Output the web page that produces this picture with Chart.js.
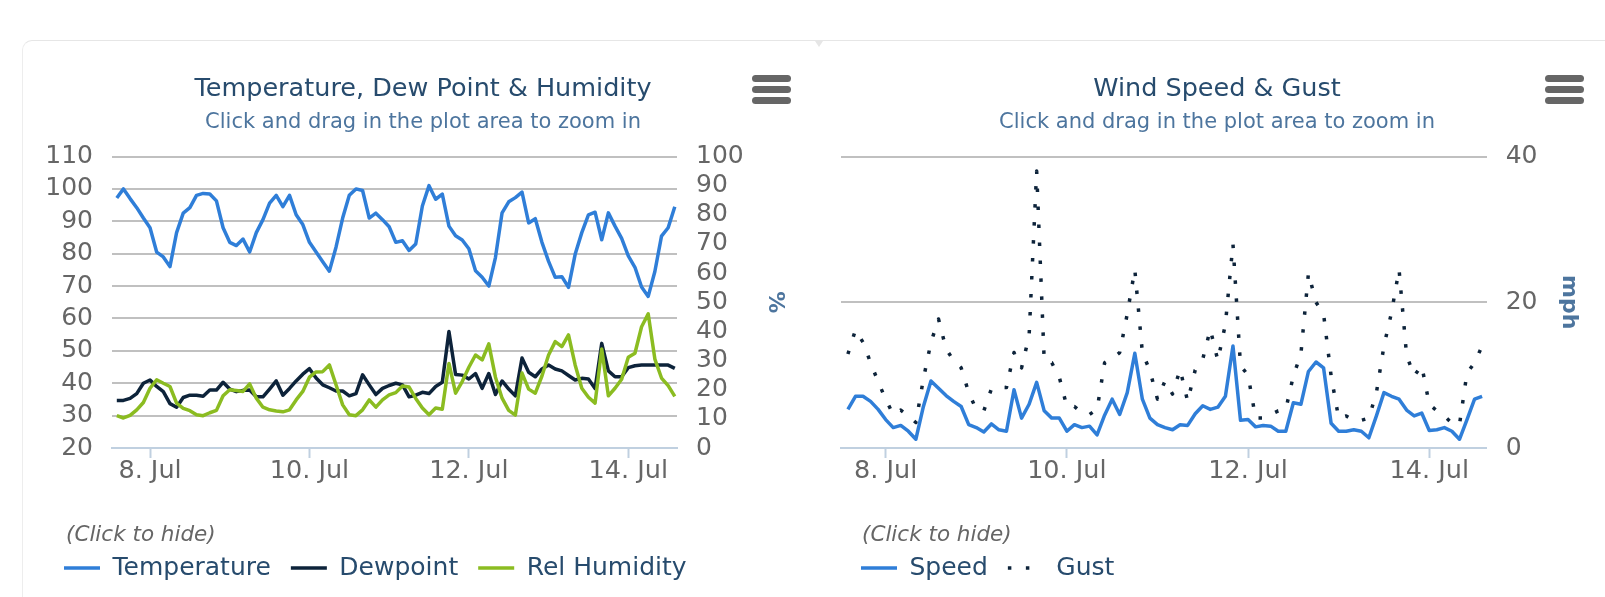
<!DOCTYPE html>
<html><head><meta charset="utf-8">
<script src="https://cdn.jsdelivr.net/npm/chart.js@4.4.0/dist/chart.umd.min.js"></script>
<style>
html,body{margin:0;padding:0;background:#fff;width:1605px;height:597px;overflow:hidden;font-family:"DejaVu Sans",sans-serif;}
#card{position:absolute;left:22px;top:40px;width:1620px;height:620px;border-top:1px solid #e6e6e6;border-left:1px solid #ededed;border-top-left-radius:10px;}
.notch{position:absolute;left:815px;top:41px;width:0;height:0;border-left:4px solid transparent;border-right:4px solid transparent;border-top:6px solid #e6e6e6;}
canvas{position:absolute;top:40px;}
#c1{left:22px}
#c2{left:815px}
.menu{position:absolute;top:75px;width:39px;}
.menu span{display:block;height:7px;border-radius:3.5px;background:#666;margin-bottom:4px;}
.hint{position:absolute;top:521px;font-style:italic;font-size:21.5px;line-height:26px;color:#666;font-family:"DejaVu Sans",sans-serif;white-space:nowrap;}
</style></head>
<body>
<div id="card"></div>
<div class="notch"></div>
<canvas id="c1" width="793" height="557"></canvas>
<canvas id="c2" width="790" height="557"></canvas>
<div class="menu" style="left:752px"><span></span><span></span><span></span></div>
<div class="menu" style="left:1545px"><span></span><span></span><span></span></div>
<div class="hint" id="h1" style="left:66px"></div>
<div class="hint" id="h2" style="left:862px"></div>
<script>
// ---- data (2-hourly readings, first at 7 Jul 14:00) ----
const startDay = 7.5833;
const stepDay = 1 / 12;
const tickDays = [8, 10, 12, 14];
const tickLabels = ['8. Jul', '10. Jul', '12. Jul', '14. Jul'];
const hintText = '(Click to hide)';

const temperature = [97.2,100,97,94.2,91,88,80.5,79,76,86.5,92.5,94.2,98,98.6,98.4,96.3,88,83.5,82.5,84.5,80.5,86.5,90.5,95.6,98,94.5,98,92,89,83.5,80.5,77.5,74.6,82,91,98,100,99.5,91,92.5,90.5,88.3,83.5,84,81,83,94.7,101,96.8,98.4,88.5,85.5,84.2,81.5,74.7,72.7,70,78.8,92.6,96,97.3,99,89.5,90.8,83.5,77.6,72.7,72.9,69.6,79.8,86.5,92,92.8,84.3,92.6,88.5,84.7,79.3,75.8,69.7,66.8,74.5,85.4,88,94.5];
const dewpoint = [34.7,34.7,35.3,36.8,40,41,39,37.4,33.7,32.6,35.6,36.3,36.3,36,37.9,37.9,40.3,38.2,37.4,37.8,37.9,35.8,35.8,38.2,40.7,36.3,38.4,40.7,42.8,44.5,41.6,39.5,38.6,37.6,37.6,36.1,36.8,42.6,39.5,36.5,38.4,39.3,40,39.5,35.8,36.3,37.2,36.8,39,40.3,56,42.7,42.5,41.3,43,38.4,43,36.5,40.7,38.2,36.1,47.8,43.4,42,44.4,45.6,44.4,43.8,42.4,41,41.5,41.3,38.4,52.3,43.8,42,42,44.8,45.4,45.6,45.6,45.6,45.6,45.6,44.6];
const humidity = [11.1,10.3,11.2,13.1,15.6,20.5,23.4,22.2,21.1,15.4,13.6,12.8,11.4,11.1,12.1,12.9,17.9,20,19.7,19.4,22,17.1,14,13.1,12.7,12.4,13.1,16.5,19.4,24.3,26.1,26.2,28.5,21.7,14.8,11.4,11.1,13.1,16.5,14,16.5,18.2,19,21.3,20.9,17,13.7,11.4,13.7,13.3,29,18.8,22.8,27.7,31.9,30.2,35.7,24.3,17.1,12.9,11.3,25.7,20.2,18.8,24.7,31.9,36.5,34.8,38.8,28.5,20.5,17.4,15.4,34,17.9,20.5,23.6,31.1,32.5,41.6,46,30.5,24,21.4,17.7];
const speed = [5.3,7.1,7.1,6.4,5.3,3.9,2.8,3.1,2.3,1.2,5.7,9.2,8.2,7.2,6.4,5.7,3.2,2.8,2.2,3.3,2.5,2.3,8,4.1,6,9,5.1,4.1,4.1,2.3,3.2,2.8,3,1.8,4.5,6.7,4.6,7.6,13,6.7,4.1,3.2,2.8,2.5,3.2,3.1,4.7,5.8,5.3,5.6,7.1,14,3.8,3.9,2.9,3.1,3,2.3,2.3,6.2,6,10.5,11.8,11,3.4,2.3,2.3,2.5,2.3,1.4,4.4,7.6,7.1,6.7,5.2,4.4,4.8,2.4,2.5,2.8,2.3,1.2,3.9,6.7,7.1];
const gust = [12.9,16.2,14.5,11.7,9.1,6.7,4.6,5.2,4.4,3.5,9.5,14.5,17.7,13.6,12,11,7.6,5.3,5.1,8.1,8.3,8.3,13.1,11,15.4,38,12,11.7,9.7,5.7,5.7,4.8,4.6,5.3,11.7,12.3,13.1,18.4,24.5,13.1,10.6,6.7,9.2,7.4,10.8,6.4,10.7,12.2,16.3,12,17,28,11.3,10,4.1,4.1,4.6,5.1,5.3,9.9,12.9,24,20,18.4,9.9,4.1,4.4,3.8,3.8,4.1,7.6,14,18.6,24.5,12.7,9.9,11.3,6,5.1,4.4,3.4,3.2,10.3,11.7,14];

document.getElementById('h1').textContent = hintText;
document.getElementById('h2').textContent = hintText;

function pts(vals) { return vals.map((v, i) => ({ x: startDay + i * stepDay, y: v })); }

Chart.defaults.font.family = "'DejaVu Sans', sans-serif";

const labelColor = '#666666';
const LW = 3.5;

function xScale(min, max) {
  return {
    type: 'linear', position: 'bottom', min: min, max: max,
    afterBuildTicks: s => { s.ticks = tickDays.map(v => ({ value: v })); },
    ticks: {
      autoSkip: false, maxRotation: 0, padding: -2, color: labelColor, font: { size: 25.5 },
      callback: v => { const k = tickDays.indexOf(v); return k >= 0 ? tickLabels[k] : ''; }
    },
    grid: { drawOnChartArea: false, drawTicks: true, tickLength: 10, tickColor: '#C0D0E0', tickWidth: 2 },
    border: { display: true, color: '#C0D0E0', width: 2 },
    afterFit: s => { s.height = 87.5; }
  };
}

function legendOpts() {
  return {
    display: true, position: 'bottom', align: 'start',
    labels: {
      usePointStyle: true, pointStyle: 'line', pointStyleWidth: 36, padding: 20,
      color: '#274b6d', font: { size: 25 },
      sort: (a, b) => a.datasetIndex - b.datasetIndex,
      generateLabels: chart => Chart.defaults.plugins.legend.labels.generateLabels(chart).map(it => {
        const ds = chart.data.datasets[it.datasetIndex];
        it.lineDash = ds.borderDash || [];
        it.lineWidth = ds.borderWidth;
        it.strokeStyle = ds.borderColor;
        it.lineCap = 'butt';
        return it;
      })
    }
  };
}

function titleOpts(text) {
  return { display: true, text: text, color: '#274b6d', font: { size: 25.5, weight: 'normal' }, padding: { top: 33.7, bottom: 0 } };
}
const subText = 'Click and drag in the plot area to zoom in';
function subOpts() {
  return { display: true, text: subText, color: '#4d759e', font: { size: 21, weight: 'normal' }, padding: { top: 6, bottom: 21 } };
}

const common = {
  responsive: false, animation: false, devicePixelRatio: 1, events: [],
  elements: { point: { radius: 0 }, line: { tension: 0, borderJoinStyle: 'round' } }
};

new Chart(document.getElementById('c1'), {
  type: 'line',
  data: {
    datasets: [
      { label: 'Temperature', data: pts(temperature), yAxisID: 'yT', borderColor: '#2f7ed8', backgroundColor: '#2f7ed8', borderWidth: LW, order: 2 },
      { label: 'Dewpoint', data: pts(dewpoint), yAxisID: 'yT', borderColor: '#0d233a', backgroundColor: '#0d233a', borderWidth: LW, order: 1 },
      { label: 'Rel Humidity', data: pts(humidity), yAxisID: 'yH', borderColor: '#8bbc21', backgroundColor: '#8bbc21', borderWidth: LW, order: 0 }
    ]
  },
  options: Object.assign({}, common, {
    layout: { padding: { left: 22, right: 13, top: 0, bottom: 6.5 } },
    scales: {
      x: xScale(7.523, 14.611),
      yT: {
        type: 'linear', position: 'left', min: 20, max: 110,
        ticks: { stepSize: 10, autoSkip: false, padding: 19, color: labelColor, font: { size: 25 } },
        grid: { drawTicks: false, lineWidth: 2, color: c => (c.tick && c.tick.value === 20) ? 'rgba(0,0,0,0)' : '#C0C0C0' },
        border: { display: false },
        afterFit: s => { s.width = 68; }
      },
      yH: {
        type: 'linear', position: 'right', min: 0, max: 100,
        ticks: { stepSize: 10, autoSkip: false, padding: 19, color: labelColor, font: { size: 25 } },
        grid: { display: false, drawTicks: false },
        border: { display: false },
        title: { display: true, text: '%', color: '#4d759e', font: { size: 22, weight: 'bold' }, padding: { top: 13.8, bottom: 0 } },
        afterFit: s => { s.width = 125; }
      }
    },
    plugins: {
      title: titleOpts('Temperature, Dew Point & Humidity'),
      subtitle: subOpts(),
      legend: legendOpts(),
      tooltip: { enabled: false }
    }
  })
});

new Chart(document.getElementById('c2'), {
  type: 'line',
  data: {
    datasets: [
      { label: 'Speed', data: pts(speed), yAxisID: 'y', borderColor: '#2f7ed8', backgroundColor: '#2f7ed8', borderWidth: LW, order: 1 },
      { label: 'Gust', data: pts(gust), yAxisID: 'y', borderColor: '#0d233a', backgroundColor: '#0d233a', borderWidth: 3.5, borderDash: [3.5, 14.5], borderCapStyle: 'butt', order: 0 }
    ]
  },
  options: Object.assign({}, common, {
    layout: { padding: { left: 26, right: 12, top: 0, bottom: 6.5 } },
    scales: {
      x: xScale(7.507, 14.634),
      y: {
        type: 'linear', position: 'right', min: 0, max: 40,
        ticks: { stepSize: 20, autoSkip: false, padding: 19, color: labelColor, font: { size: 25 } },
        grid: { drawTicks: false, lineWidth: 2, color: c => (c.tick && c.tick.value === 0) ? 'rgba(0,0,0,0)' : '#C0C0C0' },
        border: { display: false },
        title: { display: true, text: 'mph', color: '#4d759e', font: { size: 22, weight: 'bold' }, padding: { top: 10.8, bottom: 0 } },
        afterFit: s => { s.width = 106.3; }
      }
    },
    plugins: {
      title: titleOpts('Wind Speed & Gust'),
      subtitle: subOpts(),
      legend: legendOpts(),
      tooltip: { enabled: false }
    }
  })
});
</script>
</body></html>
